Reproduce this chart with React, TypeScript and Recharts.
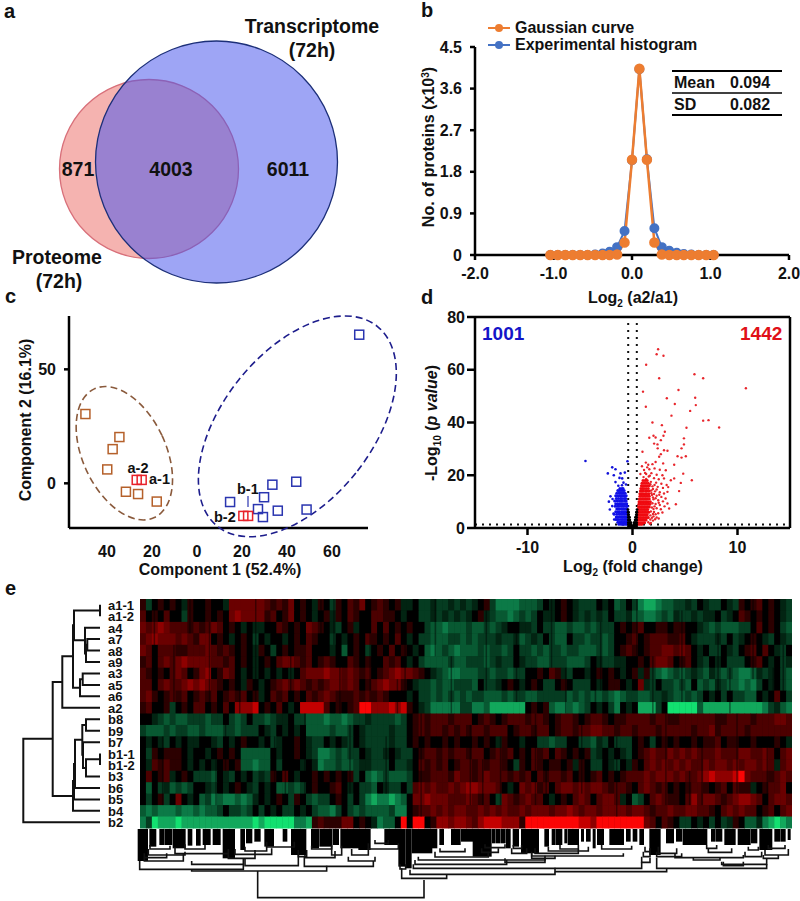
import React from "react";
import {
  Legend,
  Line,
  LineChart,
  ReferenceArea,
  ReferenceLine,
  Scatter,
  ScatterChart,
  XAxis,
  YAxis,
} from "recharts";

const FONT = "'Liberation Sans', Arial, sans-serif";

// panel a
const vennX = [149, 216.5];
const vennY = [169, 162];
const vennR = [89.5, 121];

// panel b
const histX = [-1.04, -0.945, -0.85, -0.755, -0.66, -0.565, -0.47, -0.375, -0.285, -0.19, -0.095, 0, 0.094, 0.19, 0.285, 0.38, 0.475, 0.57, 0.66, 0.755, 0.85, 0.945, 1.04];
const gaussian = [0, 0, 0, 0, 0, 0, 0, 0, 0, 0.01, 0.27, 2.06, 4.03, 2.06, 0.27, 0.01, 0, 0, 0, 0, 0, 0, 0];
const experimental = [0, 0, 0, 0, 0, 0, 0.01, 0.03, 0.07, 0.17, 0.52, 2.05, 4.02, 2.07, 0.58, 0.17, 0.09, 0.05, 0.02, 0.01, 0, 0, 0];
const histXTicks = [-2, -1, 0, 1, 2];
const histYTicks = [0, 0.9, 1.8, 2.7, 3.6, 4.5];

// panel c
const pcaBrown = [[-49.6, 30.4], [-34.5, 20.3], [-37.5, 15], [-39.9, 6.1], [-31.6, -3.7], [-26.2, -4.7], [-17.9, -8]];
const pcaBlue = [[72.1, 65.2], [33.5, -0.6], [44.1, 0.7], [29.8, -6.1], [14.7, -8.2], [27.1, -11.3], [35.9, -12], [48.7, -11.5], [29.3, -14.8]];
const pcaRed = [[-26.8, 1.5], [-24.6, 1.5], [20.6, -14.3], [22.7, -14.3]];
const brownCentre = [[-32.3, 13.2]];
const blueCentre = [[44.6, 25]];

// panel d
const blueOutliers = [[-4.48, 25.4], [-0.48, 25.3], [-1.93, 23], [-1.62, 22.3], [-2.35, 20.7], [-1.78, 20], [-1.14, 20.7], [-0.73, 21], [-1.24, 19], [-0.98, 18.8], [-1.62, 17.4], [-0.86, 17.2], [-2.1, 12], [-2.25, 10], [-1.93, 8.3], [-2.16, 7], [-1.8, 5.5], [-1.9, 11], [-1.75, 3.2], [-0.62, 16.5], [-1.35, 16], [-1.0, 16.2]];
const blueRows: [number, number[]][] = [
  [15, [-1.2, -1.0, -0.9]],
  [14.2, [-1.4, -1.25, -1.1, -0.95, -0.8]],
  [13.2, [-1.5, -1.3, -1.15, -1.0, -0.85, -0.7]],
  [12.2, [-1.6, -1.4, -1.2, -1.05, -0.9, -0.75, -0.6]],
  [11.2, [-1.55, -1.35, -1.15, -1.0, -0.8, -0.65]],
  [10.2, [-1.7, -1.45, -1.25, -1.1, -0.95, -0.75, -0.6]],
  [9.2, [-1.6, -1.4, -1.2, -1.05, -0.9, -0.7, -0.55]],
  [8.2, [-1.65, -1.45, -1.3, -1.1, -0.95, -0.8, -0.6, -0.5]],
  [7.2, [-1.5, -1.35, -1.2, -1.0, -0.85, -0.7, -0.55]],
  [6.2, [-1.6, -1.4, -1.25, -1.05, -0.9, -0.75, -0.6, -0.5]],
  [5.2, [-1.75, -1.5, -1.3, -1.15, -1, -0.85, -0.7, -0.55]],
  [4.2, [-1.55, -1.4, -1.2, -1.05, -0.9, -0.75, -0.6, -0.48]],
  [3.2, [-1.6, -1.45, -1.3, -1.1, -0.95, -0.8, -0.65, -0.5]],
  [2.2, [-1.4, -1.2, -1.05, -0.9, -0.75, -0.6, -0.48]],
  [1.4, [-1.3, -1.1, -0.95, -0.8, -0.65, -0.5]],
];
const redRows: [number, number[]][] = [
  [18, [1.0, 1.2, 1.4]],
  [17, [0.9, 1.1, 1.3, 1.5]],
  [16, [0.85, 1.0, 1.2, 1.4, 1.6]],
  [15, [0.8, 0.95, 1.1, 1.3, 1.5]],
  [14, [0.75, 0.9, 1.05, 1.25, 1.4, 1.6]],
  [13, [0.7, 0.85, 1.0, 1.2, 1.35, 1.55]],
  [12, [0.7, 0.85, 1.0, 1.15, 1.3, 1.45, 1.6]],
  [11, [0.65, 0.8, 0.95, 1.1, 1.25, 1.4, 1.6]],
  [10, [0.62, 0.75, 0.9, 1.05, 1.2, 1.35, 1.5, 1.7]],
  [9, [0.6, 0.75, 0.9, 1.05, 1.2, 1.35, 1.5, 1.65]],
  [8, [0.58, 0.7, 0.85, 1, 1.15, 1.3, 1.45, 1.6]],
  [7, [0.55, 0.7, 0.85, 1, 1.15, 1.3, 1.45]],
  [6, [0.52, 0.65, 0.8, 0.95, 1.1, 1.25, 1.4, 1.55]],
  [5, [0.5, 0.65, 0.8, 0.95, 1.1, 1.25, 1.4]],
  [4, [0.48, 0.6, 0.75, 0.9, 1.05, 1.2, 1.35, 1.5]],
  [3, [0.45, 0.6, 0.75, 0.9, 1.05, 1.2, 1.3]],
  [2, [0.45, 0.6, 0.75, 0.9, 1.05, 1.15]],
  [1.4, [0.45, 0.6, 0.75, 0.9]],
];
const redOutliers = [[2.44, 67.8], [2.3, 65.9], [2.95, 65.3], [1.3, 61.9], [2.54, 56.8], [5.9, 58.3], [6.73, 56.8], [10.8, 53], [4.38, 52.3], [1.0, 51.7], [5.97, 49.4], [3.27, 49.2], [6.03, 46.6], [4.03, 47], [1.27, 46], [5.49, 44.4], [3.71, 42.6], [6.73, 40.7], [7.24, 40.9], [1.9, 40], [8.25, 38.1], [2.8, 39], [5.14, 38], [3.08, 36.5], [2.95, 35], [2, 35], [2.2, 34.3], [1.6, 34.2], [4.9, 34], [2.06, 32], [2.7, 33.3], [4.9, 31.7], [4.67, 30.2], [2.38, 31.7], [3.33, 29.3], [3.0, 29.5], [2.4, 30.2], [0.95, 28.9], [2.7, 28], [2.54, 27], [4.29, 27.2], [5.08, 27.2], [4.67, 26.7], [2.2, 25], [1.27, 24.8], [3.97, 24], [2.92, 24.5], [3.17, 21.9], [4.83, 20.6], [5.65, 18.1], [3.97, 18.8], [4.6, 17.1], [3.65, 18.1], [4.44, 14], [3.33, 13.7], [4.13, 9], [3.33, 9.3], [3.49, 7.4],
  [1.5, 24], [1.9, 24.2], [1.1, 22], [1.6, 22.3], [2.1, 22.6], [2.6, 22.1], [1.3, 20.5], [1.8, 20.8], [2.3, 20.2], [2.85, 20], [1.05, 19.3], [1.55, 19.5], [2.05, 18.9], [2.5, 18.5], [3.0, 18.8], [1.75, 17.5], [2.25, 17.2], [2.75, 16.8], [3.25, 16.3], [1.9, 15.8], [2.4, 15.6], [2.9, 15.2], [3.4, 15.5], [1.8, 14.2], [2.15, 13.9], [2.6, 13.6], [3.0, 13.1], [1.85, 12.5], [2.3, 12.2], [2.75, 11.8], [3.15, 11.2], [2.0, 10.9], [2.45, 10.5], [2.9, 10.1], [1.9, 9.4], [2.2, 9.1], [2.6, 8.7], [3.05, 8.2], [1.85, 7.8], [2.3, 7.5], [2.7, 7.1], [1.75, 6.3], [2.05, 6.1], [2.45, 5.6], [2.85, 5.9], [1.7, 4.8], [2.0, 4.4], [2.3, 4], [1.7, 3.2], [1.95, 2.8], [1.5, 2.2], [1.75, 1.9],
  [1.65, 19.8], [1.3, 18.6], [1.7, 16.6], [2.1, 16.3], [1.95, 14.8], [2.3, 14.6], [1.8, 13.2], [2.05, 12.9], [1.95, 11.6], [2.2, 11.3], [2.55, 12.6], [2.1, 8.2], [2.5, 9.6], [2.0, 7.2], [1.95, 5.3], [2.2, 5.2], [1.85, 3.9], [2.15, 3.3], [2.5, 3.6], [1.65, 1.6], [1.2, 20.9], [1.4, 23], [0.75, 20.5], [0.9, 23.4],
];
const blackRows: [number, number[]][] = [
  [7, [-0.43, 0.43]],
  [6, [-0.42, -0.38, 0.38, 0.42]],
  [5, [-0.41, -0.36, 0.36, 0.41]],
  [4, [-0.4, -0.33, -0.28, 0.28, 0.33, 0.4]],
  [3, [-0.4, -0.32, -0.25, 0.25, 0.32, 0.4]],
  [2, [-0.4, -0.3, -0.22, -0.15, 0.15, 0.22, 0.3, 0.4]],
  [1.2, [-0.4, -0.3, -0.2, -0.12, 0.12, 0.2, 0.3, 0.4]],
  [0.6, [-0.35, -0.25, -0.15, -0.08, 0, 0.08, 0.15, 0.25, 0.35]],
  [0.2, [-0.3, -0.2, -0.1, 0, 0.1, 0.2, 0.3]],
];

// panel e: lower case green, upper case red, "." black
const rowLabels = ["a1-1", "a1-2", "a4", "a7", "a8", "a9", "a3", "a5", "a6", "a2", "b8", "b9", "b7", "b1-1", "b1-2", "b3", "b6", "b5", "b4", "b2"];
const heatRows = [
  "Ab.A.A.aA. .A..aCCCCC CBABAC.A.a A.bA.BAC.A BA.Aaa.bba bbababa.Ab ddddcccb.a .A.abbb.a. cb.bdeedcc bbab.abb.a bA.AB.A.ab",
  "B.A.B..bA. .A.A.CDCCC CAB.AC.A.a .AaA.BA..B BAA.a..bba bababa.Aab ccdcbcb.aa .A.ababab. bbaccddcbc abbabaa.ba .BA.A.A.ab",
  "CBCDCBBBAB ABCB.A.a.a a..BA.A.CB A.ab.Aa..B .B.A.A..bc cdcccbccbc ba..aab.bb ccbccbcbbb .A.AB..AA. AA..abcbcc cbb.B.A.bc",
  "BCDCCCBCBA CC.A.a.A.b .a..a.A.BA ..b.a.A.BA .A.B.a.bbc ccbbcbcbbb abbacbab.b cc.bbcbbcb ..AB.ABBBA AB.abbbab. ba.A.ab.ab",
  "CB.BBBAABB BCBABA.A.a A.b.A.AAB. ..a.c.A.b. A.B.A.a.cd cbcdcccbcb bcb.bbcbcb bcbbcccbcb .ABA.ABBCC BCB.a.bb.a b.AB.B.ab.",
  "AB.BCBCDCC CCBBAB.A.a .A.BCCBAB. ABA..BA.A. .BAB.a.bcc ccbccbbbcb abb.abbccb bbcccb.abb aa..A.BCCB .AB.ab.a.b bb.AB.a.ba",
  "BA.A.BCB.A CD.ACB.a.a .a.a.a.BCC CDCCBCBAB. ABCDCCBA.a bcddcccbbc bbcbb..A.B Aab..a.A.A .a.AaAbcdc bcbabcabcb cddcaba.bc",
  "BB.BCBBCDC DCBA.A.aA. a.ABCBCBAB ABCCBCB.AB CDCCA.abbc bccbbbc.bb a.A.a.A.bb .A.bbb.a.A A.a.Cab.bb cbc.cbcabc cdcdb.a.bc",
  "BCA.ABAB.A BAB.ABAB.A a.BAB.A.BA BCBAAABABA BA...a.bbc bcbcbcbbcc cbcbbccbbb bbcbcbccbc dcbbccbbab ccbcb.a.b. bbcc.a.B.b",
  "AB..Ab.A.B B.A.B.DDDE .A.B.a.EEE EB.A.ABFFD DDEDEA.abd ddddbbddce eeeee.A.Ac ddcdcb.a.b d.a.eeeb.f ffffceeeee eeeeedbacd",
  "..abcbccbb bcbb.bcb.b bcbaa.bbcc cdccdcbbab bbbcb.ABAB BBABBB.ABA .ABBBABBA. ABBA.ABBA. AABBBBABBA ABBBBBBAAB BBBABBBCCB",
  "bcccbcbbcc bcccbbcbbb .ab.a.a.cc ccbccb.abb bbabb.ABAB BABABABBAB BB.ABBABB. ABBABBCCBB ABBABBBABB BBBABBCABB BBABBBBBBB",
  ".a.ab.a.aa ..ab.a.A.. a.ba..A.ab b.a.ab.abb bbabb.A.A. .A.A..A.A. aA..a..bbc bb..bbcab. bbb.A.b.A. A..A.AAB.A A..A...A.a",
  ".bA.AAA.a. .a.A.A.ccc cc.a..A.ab ddcbcbb.ab ba.abb.ABB ABABBABB.A BAB.A.BAB. BA.A.Aba.a .ab.ABCBBC BCBCBBBCBB BCCBBCB.BC",
  ".aBABAA.a. a.a.A.Accd cc.b...a.a dccbccbaab bb.bba.BAB AB.ABBABAB BA.bA.BA.A A.AaA.bb.a b.aA.BCBCB CBCBBCBCCB CBCCBCBaBC",
  ".B.ABa.A.b bbc.ab.a.b abA.B.a..A .A.A.Ab.cd cbcccb.AAB BBACBBABCB BBABAB.BAB BAB.A.AB.A .ABBBCBCCC BCBBCDEDDD EFCBBBABCB",
  ".c.bacbcb. .ab.a.A.ab .a.ccbcb.A ..AB.a.bbc .abb.bBCBC BBCBCDDCCC B.a.CBCAB. BCCBCBCCBA BBA.BCBAB. A.ABBA.AB. BAAa.ABBC.",
  ".b.Ab.C.a. cbdcddcdca .a.A.bA.bc bb.A.b.bde ddedc.CCDC CCBBBCBAB. bCBABCBB.a .A.BCB.BCC Ba.cb.BCBA A.BDBCCBAB CDDCB.BCCB",
  "cdcdddcddc dccb.bbcb. b.a.bb.a.b ccdb.bcbcc ccbdd.ABBC BCBCCBBCBC BCBBCBCCCB CCDCBCCBCC CCBCCBABBC BBCCBBA.BC BCBB.AB.BC",
  "dbfeeefeee eeeeeeeeef efffffddeA BAAACC.A.a dcc.F.FF.A DDCDDCBDEE EDDDAFFFFF FFFFEEDFFF FFFFFCB.BA .bb.a.b.ba A.ccadefed",
].map((r) => r.replace(/ /g, ""));
const heatCols = 110;
// thin dark streaks through the heatmap: column, first row, row count
const streaks = [
  [2.3, 0, 6], [5.6, 4, 5], [8.3, 0, 3], [11.6, 2, 7], [14.3, 10, 5], [16.7, 6, 4], [19.4, 0, 9], [22.6, 12, 6], [25.3, 3, 6], [27.7, 10, 8],
  [30.4, 0, 5], [33.6, 5, 5], [35.3, 11, 6], [38.7, 1, 8], [41.4, 12, 5], [44.6, 2, 7], [47.3, 10, 9], [49.7, 0, 5], [52.4, 5, 5], [55.6, 11, 7],
  [58.3, 1, 7], [60.7, 12, 6], [63.4, 3, 6], [66.6, 10, 8], [69.3, 0, 6], [71.7, 6, 4], [74.4, 11, 6], [77.6, 2, 6], [80.3, 12, 7], [83.7, 0, 5],
  [86.4, 5, 5], [88.6, 10, 8], [91.3, 1, 8], [94.7, 13, 5], [97.4, 3, 6], [100.6, 10, 7], [103.3, 0, 7], [105.7, 13, 5], [108.4, 4, 5], [3.7, 12, 6],
  [12.7, 14, 4], [24.4, 15, 3], [32.6, 0, 4], [43.3, 7, 3], [57.7, 14, 4], [68.4, 14, 4], [76.7, 7, 3], [92.6, 15, 3], [99.4, 6, 4], [106.7, 6, 3],
];

// row dendrogram: height, upper row, upper child height, lower row, lower child height
const rowMerges = [
  [100, 0, 100, 1, 100],
  [87.3, 3, 100, 4, 100],
  [86, 3.5, 87.3, 5, 100],
  [85, 2, 100, 4.25, 86],
  [74, 0.5, 100, 3.1, 85],
  [82.7, 6, 100, 7, 100],
  [80, 6.5, 82.7, 8, 100],
  [73, 1.8, 74, 7.25, 80],
  [62.3, 4.5, 73, 9, 100],
  [86, 10, 100, 11, 100],
  [100, 13, 100, 14, 100],
  [86, 13.5, 100, 15, 100],
  [83, 12, 100, 14.25, 86],
  [82.3, 10.5, 86, 13.1, 83],
  [75, 11.8, 82.3, 16, 100],
  [74, 13.9, 75, 17, 100],
  [73, 15.4, 74, 18, 100],
  [52.7, 6.75, 62.3, 16.7, 73],
  [23.3, 11.7, 52.7, 19, 100],
];

// column dendrogram: left leaf, right leaf, bar depth, left stem top, right stem top
const colMerges = [
  [368, 867, 218, 138, 165], [170, 575, 138, 134, 122], [800, 935, 160, 130, 150], [14, 325, 133, 108, 118],
  [170, 325, 118, 108, 100], [330, 490, 122, 100, 90], [508, 715, 124, 95, 108], [28, 145, 108, 98, 88],
  [28, 95, 98, 85, 85], [40, 150, 90, 72, 80], [120, 280, 86, 66, 72], [150, 210, 72, 58, 60], [45, 105, 72, 60, 62],
  [280, 360, 100, 88, 75], [300, 410, 88, 72, 70], [395, 478, 66, 50, 50], [330, 395, 78, 65, 65], [490, 515, 95, 75, 75],
  [510, 600, 98, 90, 78], [530, 590, 72, 62, 60], [590, 620, 90, 62, 62], [640, 720, 108, 95, 95], [650, 700, 90, 72, 70],
  [700, 790, 72, 55, 55], [720, 760, 55, 45, 45], [795, 812, 132, 118, 118], [825, 1260, 148, 134, 140],
  [1260, 1595, 140, 128, 130], [835, 1520, 130, 118, 110], [840, 1115, 118, 105, 105], [850, 1230, 105, 95, 92],
  [1110, 1230, 112, 100, 98], [900, 1060, 96, 80, 80], [915, 990, 80, 70, 70], [1190, 1260, 100, 85, 92],
  [1190, 1465, 93, 80, 85], [1200, 1330, 85, 70, 72], [1240, 1360, 78, 65, 65], [1275, 1330, 72, 60, 60],
  [1400, 1490, 72, 60, 62], [1040, 1090, 82, 70, 70], [1050, 1110, 68, 58, 58], [1130, 1175, 85, 70, 70],
  [1135, 1160, 70, 60, 60], [1520, 1545, 112, 95, 98], [1525, 1545, 95, 80, 80], [1530, 1545, 80, 65, 70],
  [1565, 1895, 130, 98, 118], [1565, 1640, 95, 80, 85], [1570, 1625, 85, 65, 70], [1620, 1825, 98, 85, 90],
  [1675, 1755, 105, 98, 98], [1760, 1895, 118, 110, 100], [1765, 1825, 122, 110, 110], [1720, 1790, 82, 70, 70],
  [1715, 1745, 70, 60, 60], [1830, 1880, 95, 80, 80], [1840, 1870, 75, 65, 65], [1885, 1930, 100, 90, 90],
  [1890, 1960, 90, 75, 72], [1900, 1950, 70, 60, 60],
];
// solid runs of stems under the heatmap: from, to, depth
const colStems = [
  [8, 39, 108], [43, 64, 65], [73, 87, 60], [88, 112, 60], [113, 152, 70], [158, 172, 62], [183, 197, 62], [203, 227, 60],
  [233, 257, 60], [263, 300, 100], [316, 330, 75], [333, 352, 55], [358, 377, 50], [388, 417, 65], [443, 457, 50],
  [468, 514, 90], [528, 552, 70], [553, 592, 65], [593, 612, 60], [616, 672, 70], [670, 707, 75], [748, 792, 60],
  [790, 812, 125], [812, 830, 130], [830, 892, 85], [891, 907, 70], [913, 927, 60], [948, 977, 60], [978, 1014, 50],
  [1013, 1070, 95], [1071, 1082, 55], [1083, 1097, 55], [1098, 1112, 55], [1113, 1127, 70], [1133, 1152, 65],
  [1158, 1212, 85], [1228, 1242, 65], [1250, 1262, 60], [1263, 1282, 60], [1288, 1297, 55], [1298, 1332, 60],
  [1338, 1347, 50], [1353, 1367, 50], [1373, 1382, 70], [1386, 1407, 60], [1423, 1467, 60], [1473, 1487, 50],
  [1493, 1507, 50], [1513, 1527, 60], [1543, 1577, 90], [1593, 1617, 55], [1623, 1642, 50], [1643, 1717, 60],
  [1728, 1742, 50], [1743, 1762, 50], [1768, 1802, 60], [1808, 1847, 60], [1848, 1867, 55], [1873, 1912, 75],
  [1918, 1937, 50], [1938, 1952, 50], [1958, 1967, 45],
];

const toPoints = (pairs: number[][]) => pairs.map(([x, y]) => ({ x, y }));
const fromRows = (rows: [number, number[]][]) => rows.flatMap(([y, xs]) => xs.map((x) => ({ x, y })));

const heatColor = (v: number) => {
  const reds = ["#000000", "#2c0000", "#4c0000", "#6a0000", "#8e0000", "#c40000", "#fb0505"];
  const greens = ["#000000", "#022412", "#053c21", "#085932", "#0c7a47", "#12a85c", "#12e070"];
  return v >= 0 ? reds[v] : greens[-v];
};
const heatValue = (c: string) => {
  if (c === ".") return 0;
  if (c >= "A" && c <= "F") return c.charCodeAt(0) - 64;
  return -(c.charCodeAt(0) - 96);
};
const heatCells = heatRows.flatMap((row, r) =>
  row.split("").map((c, i) => ({ x: i + 0.5, y: r + 0.5, v: heatValue(c) }))
);

const boldText = { fontFamily: FONT, fontWeight: 700, fill: "#111" };
const axisStyle = { stroke: "#000", strokeWidth: 2.5 };
const noDot = () => <g />;

function Venn() {
  const circle = (fill: string, stroke: string, r: number) => (p: any) => (
    <circle cx={p.cx} cy={p.cy} r={r} fill={fill} stroke={stroke} strokeWidth={1.3} />
  );
  return (
    <ScatterChart width={400} height={300} margin={{ top: 0, right: 0, bottom: 0, left: 0 }}>
      <XAxis type="number" dataKey="x" domain={[0, 400]} hide />
      <YAxis type="number" dataKey="y" domain={[0, 300]} reversed hide />
      <Scatter data={[{ x: vennX[0], y: vennY[0] }]} shape={circle("rgba(236,104,98,0.5)", "#d8707a", vennR[0])} isAnimationActive={false} />
      <Scatter data={[{ x: vennX[1], y: vennY[1] }]} shape={circle("rgba(72,85,236,0.53)", "#1c2f78", vennR[1])} isAnimationActive={false} />
    </ScatterChart>
  );
}

function HistLegend() {
  const items = [
    { name: "Gaussian curve", color: "#ED7D31" },
    { name: "Experimental histogram", color: "#4472C4" },
  ];
  return (
    <div style={{ fontFamily: FONT, fontWeight: 700, fontSize: 16, color: "#111", lineHeight: "17px" }}>
      {items.map((it) => (
        <div key={it.name} style={{ display: "flex", alignItems: "center", height: 17 }}>
          <svg width={27} height={12}>
            <line x1={0} x2={22} y1={6} y2={6} stroke={it.color} strokeWidth={2} />
            <circle cx={11} cy={6} r={4} fill={it.color} />
          </svg>
          <span>{it.name}</span>
        </div>
      ))}
    </div>
  );
}

function Histogram() {
  const table = histX.map((x, i) => ({ x, gaussian: gaussian[i], experimental: experimental[i] }));
  return (
    <LineChart width={380} height={280} data={table} margin={{ top: 37, right: 11, bottom: 0, left: 0 }}>
      <XAxis
        type="number"
        dataKey="x"
        domain={[-2, 2]}
        ticks={histXTicks}
        height={35}
        interval={0}
        tickFormatter={(v: number) => v.toFixed(1)}
        axisLine={axisStyle}
        tickLine={axisStyle}
        tickSize={5}
        tickMargin={8}
        tick={{ ...boldText, fontSize: 16 }}
      />
      <YAxis
        type="number"
        domain={[0, 4.5]}
        ticks={histYTicks}
        width={55}
        interval={0}
        tickFormatter={(v: number) => (v === 0 ? "0" : v.toFixed(1))}
        axisLine={axisStyle}
        tickLine={axisStyle}
        tickSize={5}
        tickMargin={8}
        tick={{ ...boldText, fontSize: 16 }}
      />
      <Legend
        layout="horizontal"
        align="center"
        verticalAlign="middle"
        wrapperStyle={{ left: 68, top: 9, width: 300 }}
        content={() => <HistLegend />}
      />
      <Line dataKey="experimental" stroke="#4472C4" strokeWidth={2} dot={{ r: 4, fill: "#4472C4", stroke: "#4472C4" }} isAnimationActive={false} />
      <Line dataKey="gaussian" stroke="#ED7D31" strokeWidth={2.5} dot={{ r: 4, fill: "#ED7D31", stroke: "#ED7D31" }} isAnimationActive={false} />
    </LineChart>
  );
}

function Pca() {
  const square = (color: string) => (p: any) => (
    <rect x={p.cx - 4.5} y={p.cy - 4.5} width={9} height={9} fill="none" stroke={color} strokeWidth={1.5} />
  );
  const ellipse = (color: string, rx: number, ry: number, rot: number) => (p: any) => (
    <ellipse cx={p.cx} cy={p.cy} rx={rx} ry={ry} transform={`rotate(${rot} ${p.cx} ${p.cy})`} fill="none" stroke={color} strokeWidth={1.6} strokeDasharray="7 4" />
  );
  return (
    <ScatterChart width={405} height={268} margin={{ top: 16, right: 37, bottom: 0, left: 0 }}>
      <XAxis
        type="number"
        dataKey="x"
        domain={[-56.9, 76]}
        ticks={[-40, -20, 0, 20, 40, 60]}
        interval={0}
        height={40}
        tickFormatter={(v: number) => String(Math.abs(v))}
        axisLine={axisStyle}
        tickLine={false}
        tickMargin={12}
        tick={{ ...boldText, fontSize: 16 }}
      />
      <YAxis
        type="number"
        dataKey="y"
        domain={[-19.6, 73.4]}
        ticks={[0, 50]}
        interval={0}
        width={69}
        axisLine={axisStyle}
        tickLine={axisStyle}
        tickSize={5}
        tickMargin={8}
        tick={{ ...boldText, fontSize: 16 }}
      />
      <Scatter data={toPoints(brownCentre)} shape={ellipse("#8a5a3c", 41.6, 71, -25)} isAnimationActive={false} />
      <Scatter data={toPoints(blueCentre)} shape={ellipse("#1d1d8c", 74.8, 128, 38.6)} isAnimationActive={false} />
      <Scatter data={toPoints(pcaBrown)} shape={square("#b5602a")} isAnimationActive={false} />
      <Scatter data={toPoints(pcaBlue)} shape={square("#2a35b0")} isAnimationActive={false} />
      <Scatter data={toPoints(pcaRed)} shape={square("#e8222a")} isAnimationActive={false} />
    </ScatterChart>
  );
}

function Volcano() {
  const dot = (color: string, r: number) => (p: any) => <circle cx={p.cx} cy={p.cy} r={r} fill={color} />;
  const dotted = { stroke: "#111", strokeWidth: 2, strokeDasharray: "2 5" };
  return (
    <ScatterChart width={390} height={261} margin={{ top: 7, right: 10, bottom: 0, left: 0 }}>
      <XAxis
        type="number"
        dataKey="x"
        domain={[-15, 15]}
        ticks={[-10, 0, 10]}
        interval={0}
        height={43}
        axisLine={axisStyle}
        tickLine={axisStyle}
        tickSize={7}
        tickMargin={7}
        tick={{ ...boldText, fontSize: 16 }}
      />
      <YAxis
        type="number"
        dataKey="y"
        domain={[0, 80]}
        ticks={[0, 20, 40, 60, 80]}
        interval={0}
        width={65}
        axisLine={axisStyle}
        tickLine={axisStyle}
        tickSize={8}
        tick={{ ...boldText, fontSize: 16 }}
      />
      <ReferenceLine y={80} stroke="#000" strokeWidth={2.5} />
      <ReferenceLine x={15} stroke="#000" strokeWidth={2.5} />
      <ReferenceLine segment={[{ x: -0.41, y: 0 }, { x: -0.41, y: 78 }]} {...dotted} />
      <ReferenceLine segment={[{ x: 0.41, y: 0 }, { x: 0.41, y: 78 }]} {...dotted} />
      <ReferenceLine y={1.3} {...dotted} />
      <Scatter data={toPoints(blueOutliers)} shape={dot("#1212d8", 1.3)} isAnimationActive={false} />
      <Scatter data={fromRows(blueRows)} shape={dot("#1010e8", 1.5)} isAnimationActive={false} />
      <Scatter data={toPoints(redOutliers)} shape={dot("#e8262c", 1.2)} isAnimationActive={false} />
      <Scatter data={fromRows(redRows)} shape={dot("#f00a10", 1.5)} isAnimationActive={false} />
      <Scatter data={fromRows(blackRows)} shape={dot("#000", 1.4)} isAnimationActive={false} />
    </ScatterChart>
  );
}

function RowDendrogram() {
  return (
    <ScatterChart width={105} height={229} margin={{ top: 0, right: 0, bottom: 0, left: 0 }}>
      <XAxis type="number" dataKey="x" domain={[0, 105]} hide />
      <YAxis type="number" dataKey="y" domain={[-0.5, 19.5]} reversed hide />
      {rowMerges.map(([h, yA, hA, yB, hB], i) => (
        <Scatter
          key={i}
          data={[{ x: hA, y: yA }, { x: h, y: yA }, { x: h, y: yB }, { x: hB, y: yB }]}
          line={{ stroke: "#111", strokeWidth: 2 }}
          shape={noDot}
          isAnimationActive={false}
        />
      ))}
    </ScatterChart>
  );
}

function Heatmap() {
  const cellW = 652 / heatCols;
  const cellH = 229 / heatRows.length;
  const streakData = streaks.map(([col, first, count]) => ({ x: col, y: first + count / 2, count }));
  return (
    <ScatterChart width={692} height={233} margin={{ top: 0, right: 0, bottom: 4, left: 0 }}>
      <XAxis type="number" dataKey="x" domain={[0, heatCols]} hide />
      <YAxis
        type="number"
        dataKey="y"
        domain={[0, heatRows.length]}
        reversed
        ticks={rowLabels.map((_, i) => i + 0.5)}
        interval={0}
        width={40}
        axisLine={false}
        tickLine={false}
        tick={(p: any) => (
          <text x={8} y={p.y + 5} fontSize={13} {...boldText}>
            {rowLabels[Math.floor(p.payload.value)]}
          </text>
        )}
      />
      <ReferenceArea x1={0} x2={heatCols} y1={0} y2={heatRows.length} fill="#000" fillOpacity={1} />
      <Scatter
        data={heatCells}
        shape={(p: any) => (
          <rect x={p.cx - cellW / 2} y={p.cy - cellH / 2} width={cellW + 0.5} height={cellH + 0.5} fill={heatColor(p.payload.v)} />
        )}
        isAnimationActive={false}
      />
      <Scatter
        data={streakData}
        shape={(p: any) => (
          <rect x={p.cx} y={p.cy - (p.payload.count * cellH) / 2} width={1.5} height={p.payload.count * cellH} fill="#000" fillOpacity={0.45} />
        )}
        isAnimationActive={false}
      />
    </ScatterChart>
  );
}

function ColDendrogram() {
  return (
    <ScatterChart width={660} height={76} margin={{ top: 0, right: 0, bottom: 0, left: 0 }}>
      <XAxis type="number" dataKey="x" domain={[0, 1980]} hide />
      <YAxis type="number" dataKey="y" domain={[0, 228]} reversed hide />
      {colStems.map(([a, b, d], i) => (
        <ReferenceArea key={i} x1={a} x2={b} y1={12} y2={d} fill="#000" fillOpacity={1} stroke="none" />
      ))}
      {colMerges.map(([xL, xR, bar, topL, topR], i) => (
        <Scatter
          key={i}
          data={[{ x: xL, y: topL }, { x: xL, y: bar }, { x: xR, y: bar }, { x: xR, y: topR }]}
          line={{ stroke: "#111", strokeWidth: 1.6 }}
          shape={noDot}
          isAnimationActive={false}
        />
      ))}
    </ScatterChart>
  );
}

const Box = ({ left, top, children }: any) => (
  <div style={{ position: "absolute", left, top }}>{children}</div>
);

function Annotations() {
  const t = { ...boldText, fontSize: 16 };
  const vl = (x: number, y: number, children: any) => (
    <text x={x} y={y} textAnchor="middle" transform={`rotate(-90 ${x} ${y})`} {...t}>
      {children}
    </text>
  );
  return (
    <svg width={800} height={901} style={{ position: "absolute", left: 0, top: 0, pointerEvents: "none" }}>
      {[["a", 4, 18], ["b", 421, 17], ["c", 5, 303], ["d", 421, 304], ["e", 5, 595]].map(([s, x, y]: any) => (
        <text key={s} x={x} y={y} {...boldText} fontSize={20}>{s}</text>
      ))}
      <g {...boldText} fontSize={19.5} textAnchor="middle">
        <text x={78} y={176}>871</text>
        <text x={171} y={176}>4003</text>
        <text x={288} y={176}>6011</text>
        <text x={312} y={33}>Transcriptome</text>
        <text x={312} y={57}>(72h)</text>
        <text x={57} y={264}>Proteome</text>
        <text x={59} y={288}>(72h)</text>
      </g>

      {vl(434, 147, <>No. of proteins (x10<tspan dy={-5} fontSize={10}>3</tspan><tspan dy={5}>)</tspan></>)}
      <text x={633} y={303} textAnchor="middle" {...t}>
        Log<tspan dy={4} fontSize={10}>2</tspan><tspan dy={-4}> (a2/a1)</tspan>
      </text>
      <line x1={672} x2={782} y1={71} y2={71} stroke="#000" strokeWidth={2} />
      <line x1={672} x2={782} y1={93} y2={93} stroke="#000" strokeWidth={1.5} />
      <line x1={672} x2={782} y1={115} y2={115} stroke="#000" strokeWidth={2} />
      <text x={674} y={88} {...t}>Mean</text>
      <text x={730} y={88} {...t}>0.094</text>
      <text x={674} y={110} {...t}>SD</text>
      <text x={730} y={110} {...t}>0.082</text>

      {vl(31, 420, "Component 2 (16.1%)")}
      <text x={220} y={575} textAnchor="middle" {...t}>Component 1 (52.4%)</text>
      <text x={138} y={473} textAnchor="middle" {...t} fontSize={14.5}>a-2</text>
      <text x={149} y={484} {...t} fontSize={14.5}>a-1</text>
      <text x={237} y={494} {...t} fontSize={14.5}>b-1</text>
      <text x={214} y={522} {...t} fontSize={14.5}>b-2</text>
      <line x1={248} x2={248} y1={496} y2={507} stroke="#2a35b0" strokeWidth={1.2} />

      {vl(437, 423, <>-Log<tspan dy={4} fontSize={10}>10</tspan><tspan dy={-4}> (</tspan><tspan fontStyle="italic">p value</tspan>)</>)}
      <text x={633} y={572} textAnchor="middle" {...t}>
        Log<tspan dy={4} fontSize={10}>2</tspan><tspan dy={-4}> (fold change)</tspan>
      </text>
      <text x={482} y={340} fontFamily={FONT} fontWeight={700} fontSize={19} fill="#1414c8">1001</text>
      <text x={740} y={340} fontFamily={FONT} fontWeight={700} fontSize={19} fill="#e01018">1442</text>
    </svg>
  );
}

export default function App() {
  return (
    <div style={{ position: "absolute", left: 0, top: 0, width: 800, height: 901, background: "#fff", overflow: "hidden" }}>
      <Box left={0} top={0}><Venn /></Box>
      <Box left={420} top={10}><Histogram /></Box>
      <Box left={0} top={300}><Pca /></Box>
      <Box left={410} top={310}><Volcano /></Box>
      <Box left={0} top={599}><RowDendrogram /></Box>
      <Box left={100} top={599}><Heatmap /></Box>
      <Box left={135} top={825}><ColDendrogram /></Box>
      <Annotations />
    </div>
  );
}
